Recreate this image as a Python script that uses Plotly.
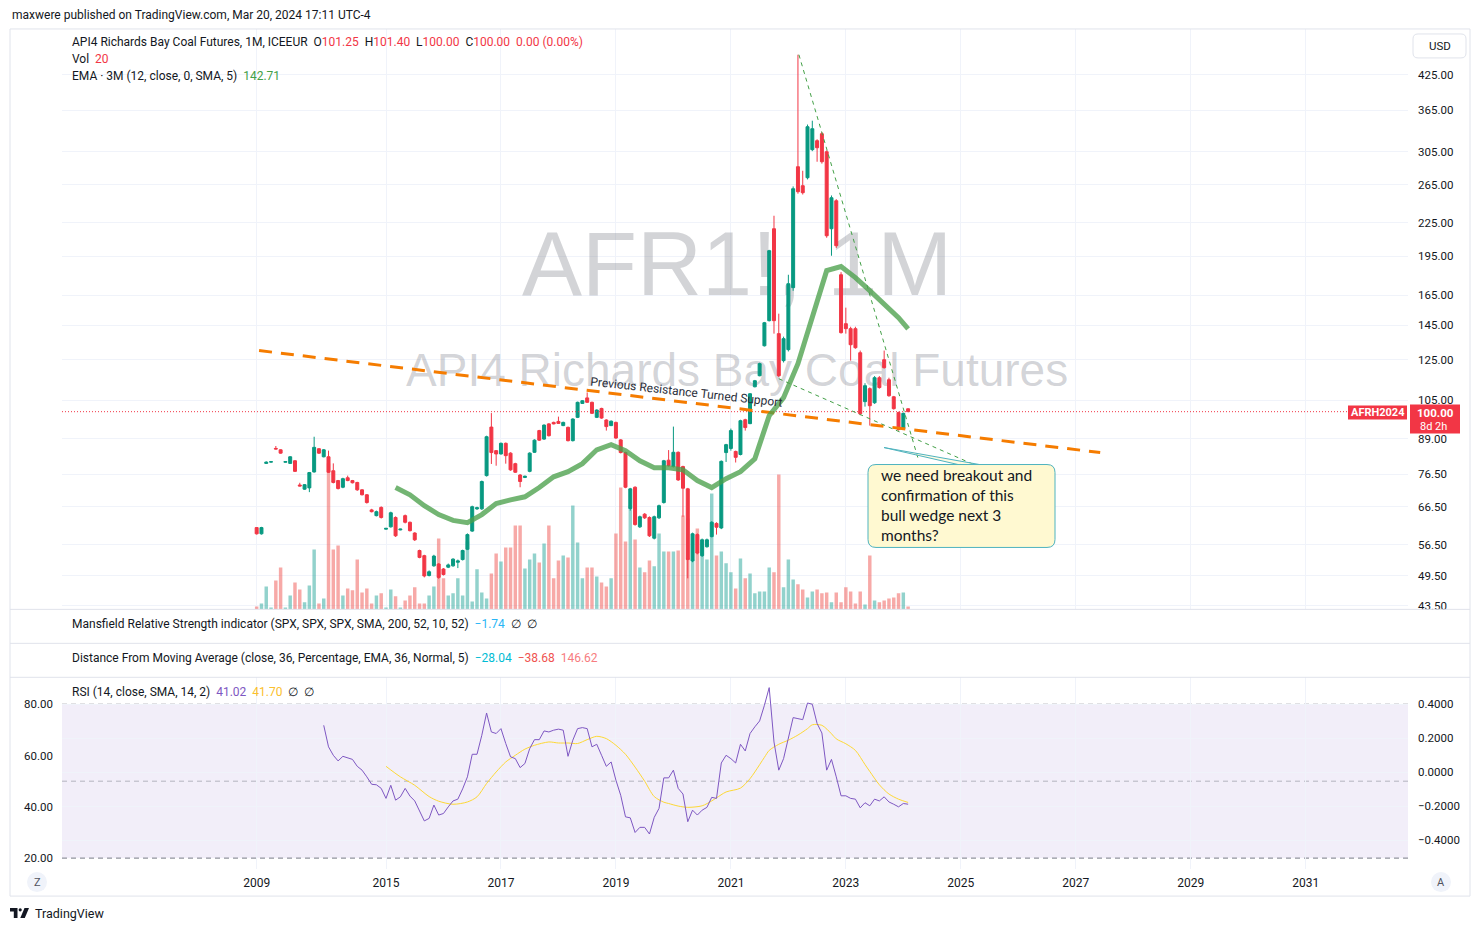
import math
import plotly.graph_objects as go

# ---------------- data (monthly bars, bar index -2 .. 134) ----------------
bar_index = list(range(-2, 135))

opens = [
    60.8, 59.2,
    80.1, 80.55, 85.4, 84.9, 80.5, 80.1, 81.0, 73.0, 71.7, 72.1,
    77.2, 85.3, 82.4, 82.4, 77.6, 74.4, 72.3, 75.3, 74.4, 73.8,
    71.5, 70.0, 65.6, 64.0, 66.3, 60.4, 61.0, 63.5, 60.2, 64.0,
    62.2, 59.4, 55.1, 53.9, 49.5, 51.6, 52.0, 50.9, 51.3, 51.6,
    52.4, 53.0, 55.4, 59.9, 65.9, 65.9, 76.0, 93.6, 84.6, 83.4,
    87.3, 83.7, 80.0, 76.2, 75.4, 77.4, 84.0, 92.2, 88.9, 94.9,
    95.5, 95.9, 94.2, 93.5, 88.3, 97.6, 103.6, 106.1, 104.1, 97.6,
    101.4, 96.5, 94.2, 95.5, 88.6, 83.9, 66.0, 72.3, 61.0, 64.4,
    63.5, 58.1, 63.4, 67.7, 81.2, 79.0, 84.0, 79.0, 71.8, 52.7,
    59.0, 53.9, 56.0, 58.5, 61.9, 60.7, 83.9, 85.4, 84.3, 83.2,
    96.6, 95.0, 111.3, 116.7, 132.7, 147.8, 219.3, 139.8, 124.5, 130.5,
    170.3, 286.2, 263.8, 273.0, 308.0, 320.0, 329.7, 305.2, 219.3, 247.3,
    180.0, 145.9, 142.8, 142.8, 128.8, 104.4, 110.4, 103.9, 115.7, 125.0,
    114.7, 106.6, 99.6, 93.0, 101.25,
]
highs = [
    60.9, 61.0,
    80.8, 80.8, 86.3, 85.1, 80.8, 82.6, 81.2, 73.7, 73.3, 77.2,
    89.8, 85.5, 85.2, 84.6, 80.1, 74.6, 75.3, 76.0, 74.6, 74.0,
    71.7, 70.2, 65.9, 65.4, 66.6, 60.7, 65.1, 63.8, 60.5, 64.3,
    62.4, 59.6, 55.3, 54.1, 50.6, 54.1, 52.2, 51.1, 52.1, 53.3,
    53.0, 55.3, 59.3, 66.8, 66.5, 74.4, 90.2, 99.4, 84.8, 87.6,
    87.6, 84.0, 80.3, 76.5, 76.0, 84.0, 88.8, 92.5, 94.7, 95.2,
    95.8, 97.9, 95.8, 93.8, 97.2, 104.4, 105.1, 108.6, 104.4, 101.0,
    101.7, 96.8, 96.3, 95.8, 88.9, 84.2, 72.1, 72.6, 64.0, 64.7,
    63.8, 64.0, 67.1, 81.3, 84.8, 93.8, 84.3, 79.3, 72.1, 59.5,
    59.3, 58.0, 58.0, 62.5, 62.2, 81.1, 87.1, 93.0, 84.6, 96.6,
    97.0, 108.3, 114.6, 123.4, 147.0, 200.3, 231.9, 152.3, 138.0, 180.0,
    263.0, 462.9, 281.3, 343.0, 348.7, 322.0, 332.0, 307.0, 253.0, 249.0,
    182.0, 156.3, 144.0, 144.0, 130.0, 113.0, 111.0, 116.5, 116.5, 130.0,
    115.7, 107.0, 100.0, 99.6, 101.4,
]
lows = [
    59.0, 59.0,
    79.9, 80.4, 85.1, 83.5, 80.4, 80.0, 77.2, 72.6, 71.5, 70.8,
    77.0, 83.4, 82.2, 76.9, 73.5, 71.6, 72.0, 74.2, 73.5, 71.2,
    69.8, 67.4, 64.9, 63.8, 63.2, 60.3, 60.8, 58.4, 60.1, 61.9,
    59.8, 57.4, 53.3, 49.1, 49.3, 51.4, 48.8, 49.5, 51.1, 51.4,
    51.1, 52.8, 55.2, 59.7, 65.6, 65.6, 75.7, 79.9, 79.3, 83.2,
    80.0, 77.6, 76.9, 72.3, 75.2, 77.1, 83.8, 88.2, 88.6, 89.9,
    94.7, 94.9, 94.0, 88.0, 88.0, 97.3, 103.4, 103.9, 99.0, 97.3,
    97.0, 92.2, 94.0, 89.0, 83.6, 72.0, 65.4, 61.3, 60.7, 63.1,
    58.4, 57.8, 63.1, 67.4, 79.0, 78.7, 74.3, 63.7, 48.9, 52.4,
    54.2, 53.6, 55.8, 58.3, 59.0, 60.4, 80.6, 84.6, 80.4, 82.9,
    92.2, 94.8, 111.0, 116.4, 132.3, 147.3, 139.8, 116.0, 123.5, 129.5,
    168.0, 254.9, 254.0, 271.0, 306.0, 292.4, 290.0, 211.0, 195.3, 202.0,
    139.8, 139.8, 124.5, 131.0, 98.5, 102.2, 94.2, 103.4, 110.4, 120.3,
    106.6, 100.9, 92.2, 92.6, 100.0,
]
closes = [
    59.2, 60.8,
    80.5, 80.65, 85.2, 83.7, 80.7, 82.4, 77.4, 72.7, 73.1, 77.0,
    85.8, 83.7, 84.9, 77.1, 73.8, 71.9, 75.0, 74.4, 73.7, 71.5,
    70.0, 67.7, 65.1, 65.1, 63.5, 60.6, 64.8, 58.7, 60.4, 62.2,
    60.0, 57.7, 53.5, 49.4, 50.3, 53.8, 49.1, 49.7, 51.8, 53.1,
    52.7, 55.1, 59.0, 66.5, 66.2, 74.1, 89.8, 83.9, 83.4, 87.3,
    82.8, 77.9, 77.1, 74.1, 75.8, 83.7, 88.5, 88.5, 94.4, 90.2,
    94.9, 95.1, 95.5, 88.3, 96.9, 104.1, 104.8, 104.1, 99.3, 100.7,
    97.3, 93.8, 96.0, 89.3, 83.9, 72.3, 71.8, 61.6, 63.7, 63.4,
    58.7, 63.7, 66.8, 81.0, 79.3, 84.0, 74.6, 72.0, 53.0, 59.2,
    54.5, 57.7, 57.7, 62.2, 60.9, 80.8, 86.8, 92.2, 82.2, 96.2,
    93.4, 108.0, 114.2, 122.9, 146.5, 199.6, 147.8, 116.7, 136.8, 173.2,
    260.4, 257.1, 256.0, 339.8, 336.9, 310.5, 292.4, 212.8, 250.5, 203.9,
    140.4, 142.8, 133.3, 131.6, 99.1, 111.8, 102.6, 115.7, 110.9, 120.8,
    107.1, 101.3, 92.6, 99.3, 100.0,
]
volumes = [
    20, 40,
    153, 13, 193, 280, 13, 93, 180, 133, 47, 160,
    400, 40, 73, 973, 400, 427, 93, 140, 127, 333,
    113, 140, 40, 93, 107, 13, 133, 87, 13, 60,
    93, 147, 40, 40, 93, 153, 473, 207, 93, 107,
    207, 93, 453, 53, 267, 113, 73, 240, 373, 320,
    413, 413, 560, 560, 273, 333, 373, 313, 440, 560,
    207, 327, 360, 347, 693, 447, 207, 280, 280, 220,
    180, 153, 207, 507, 813, 453, 693, 467, 280, 247,
    327, 287, 507, 387, 387, 387, 393, 627, 607, 333,
    540, 447, 333, 773, 360, 387, 307, 247, 140, 340,
    207, 240, 107, 120, 120, 280, 247, 900, 147, 333,
    200, 167, 133, 80, 120, 133, 107, 113, 47, 113,
    47, 147, 120, 40, 120, 33, 360, 60, 47, 60,
    73, 80, 107, 113, 20,
]

# EMA of the 3-month timeframe (one point per quarter)
ema_index = [27, 30, 33, 36, 39, 42, 45, 48, 51, 54, 57, 60, 63, 66, 69, 72, 75, 78,
             81, 84, 87, 90, 93, 96, 99, 102, 105, 108, 111, 114, 117, 120, 123, 126,
             129, 132, 134]
ema_values = [72.2, 70.0, 66.8, 64.3, 62.7, 62.1, 64.3, 67.4, 68.5, 69.4, 72.2, 75.6,
              77.3, 80.0, 84.9, 86.8, 84.6, 81.0, 78.6, 78.6, 77.9, 74.4, 72.2, 75.0,
              77.3, 81.7, 98.3, 106.2, 122.9, 149.7, 183.2, 186.4, 177.8, 168.1, 158.9,
              149.7, 142.71]

# RSI (14) and its SMA
rsi_index = list(range(12, 135))
rsi_values = [
    71.8, 63.4, 60.1, 57.9, 59.7, 59.2, 58.5, 55.8,
    54.3, 51.7, 48.8, 48.6, 47.2, 43.3, 48.4, 42.6, 43.9, 47.2,
    44.2, 42.3, 38.4, 34.5, 35.5, 40.7, 36.8, 37.4, 40.0, 42.3,
    43.0, 47.0, 51.7, 60.5, 60.5, 67.9, 76.6, 69.2, 68.6, 70.5,
    64.7, 59.5, 58.8, 55.3, 56.9, 62.7, 66.2, 66.2, 69.6, 69.2,
    69.9, 70.3, 69.9, 59.7, 66.0, 70.5, 70.9, 70.5, 63.4, 64.4,
    60.1, 55.8, 57.5, 50.4, 44.5, 36.1, 35.7, 30.0, 32.0, 32.0,
    29.4, 35.9, 39.4, 51.3, 51.3, 54.3, 47.2, 45.0, 34.2, 38.7,
    36.8, 38.7, 39.8, 43.7, 43.3, 57.1, 60.1, 58.8, 57.1, 64.4,
    61.8, 68.6, 71.2, 73.5, 79.6, 86.5, 65.3, 54.3, 58.8, 67.3,
    74.8, 74.4, 74.0, 80.5, 80.0, 72.5, 68.8, 54.3, 58.5, 51.7,
    44.3, 44.3, 43.3, 43.0, 39.6, 41.6, 40.4, 43.0, 42.3, 43.9,
    41.9, 41.0, 40.0, 41.3, 41.02,
]
rsi_sma_index = [25, 28, 31, 34, 36, 39, 42, 44, 46, 48, 50, 52, 54, 56, 59, 61, 63, 65,
                 67, 69, 71, 73, 75, 77, 79, 81, 83, 84, 86, 88, 91, 93, 94, 96, 99, 101,
                 102, 104, 105, 107, 109, 111, 113, 114, 116, 118, 119, 121, 123, 125,
                 126, 128, 130, 132, 134]
rsi_sma_values = [55.8, 51.7, 48.4, 44.0, 42.2, 41.0, 41.9, 43.9, 49.1, 53.6, 57.5, 60.1,
                  62.5, 64.0, 65.3, 64.9, 64.9, 64.7, 66.2, 67.5, 66.6, 64.0, 60.5, 55.5,
                  50.0, 44.0, 41.8, 41.3, 40.3, 39.8, 40.4, 42.3, 43.5, 45.8, 47.3, 51.0,
                  53.6, 59.3, 62.0, 64.4, 66.0, 68.0, 70.5, 72.0, 71.8, 68.5, 66.5, 64.6,
                  62.0, 56.5, 53.8, 48.6, 45.0, 43.0, 41.70]

year_tick_index = [-2, 25, 49, 73, 97, 121, 145, 169, 193, 217]
year_tick_labels = ["2009", "2015", "2017", "2019", "2021", "2023", "2025", "2027", "2029", "2031"]
price_ticks = [425, 365, 305, 265, 225, 195, 165, 145, 125, 105, 89, 76.5, 66.5, 56.5, 49.5, 43.5]
rsi_ticks = [20, 40, 60, 80]
rsi_right_ticks = [0.4, 0.2, 0.0, -0.2, -0.4]

# user drawings (bar index, price)
resistance_idx, resistance_price = [-1.5, 174.1], [130.0, 83.9]
wedge_upper_idx, wedge_upper_price = [111.2, 136.1], [462.9, 81.7]
wedge_lower_idx, wedge_lower_price = [107.0, 150.1], [115.2, 78.0]
last_price = 100.0
callout_text = "we need breakout and<br>confirmation of this<br>bull wedge next 3<br>months?"

# ---------------- layout helpers ----------------
# the page body has an 8px margin, so the figure is placed at (8, 8) of the window
OFF = 8
W, H = 1480 - 2 * OFF, 931 - 2 * OFF
FONT = "Roboto"
TXT = "#131722"
RED = "#f23645"
GRID = "#f0f3fa"
SEP = "#e0e3eb"
X_RANGE = [-42.64, 238.36]


def px(x):
    return (x - OFF) / W


def py(y):
    y = 14 + (y - 13) * 1.00227  # small vertical calibration
    return 1 - (y - OFF) / H


fig = go.Figure()

# watermark (base subplot, drawn beneath everything)
fig.add_trace(go.Scatter(x=[98.3, 98.3], y=[0.58, 0.405], mode="text",
                         text=["AFR1!, 1M", "API4 Richards Bay Coal Futures"],
                         textfont=dict(size=[90, 46], color="rgba(120,123,134,0.33)",
                                       family="Liberation Sans"),
                         xaxis="x", yaxis="y", hoverinfo="skip", showlegend=False))

# volume
vol_colors = ["rgba(38,166,154,0.5)" if c >= o else "rgba(239,83,80,0.5)"
              for o, c in zip(opens, closes)]
fig.add_trace(go.Bar(x=bar_index, y=volumes, marker=dict(color=vol_colors, line=dict(width=0)),
                     width=0.72, xaxis="x", yaxis="y2", hoverinfo="skip", showlegend=False))

# candles
fig.add_trace(go.Candlestick(
    x=bar_index, open=opens, high=highs, low=lows, close=closes,
    increasing=dict(line=dict(color="#089981", width=1), fillcolor="#089981"),
    decreasing=dict(line=dict(color=RED, width=1), fillcolor=RED),
    whiskerwidth=0, xaxis="x", yaxis="y3", hoverinfo="skip", showlegend=False))

# last price dotted line
fig.add_trace(go.Scatter(x=X_RANGE, y=[last_price, last_price], mode="lines",
                         line=dict(color=RED, width=1, dash="1px,2px"),
                         xaxis="x", yaxis="y3", hoverinfo="skip", showlegend=False))

# drawings
fig.add_trace(go.Scatter(x=resistance_idx, y=resistance_price, mode="lines",
                         line=dict(color="#f57c00", width=3, dash="13px,9px"),
                         xaxis="x", yaxis="y3", hoverinfo="skip", showlegend=False))
for xs, ys in [(wedge_upper_idx, wedge_upper_price), (wedge_lower_idx, wedge_lower_price)]:
    fig.add_trace(go.Scatter(x=xs, y=ys, mode="lines",
                             line=dict(color="#43a047", width=1, dash="4px,4px"),
                             xaxis="x", yaxis="y3", hoverinfo="skip", showlegend=False))

# EMA 3M
fig.add_trace(go.Scatter(x=ema_index, y=ema_values, mode="lines",
                         line=dict(color="rgba(76,160,76,0.78)", width=5),
                         xaxis="x", yaxis="y3", hoverinfo="skip", showlegend=False))

# RSI pane
fig.add_trace(go.Scatter(x=rsi_sma_index, y=rsi_sma_values, mode="lines",
                         line=dict(color="#fdd835", width=1, shape="spline", smoothing=0.8),
                         xaxis="x2", yaxis="y4", hoverinfo="skip", showlegend=False))
fig.add_trace(go.Scatter(x=rsi_index, y=rsi_values, mode="lines",
                         line=dict(color="#7e57c2", width=1),
                         xaxis="x2", yaxis="y4", hoverinfo="skip", showlegend=False))
fig.add_trace(go.Scatter(x=[None], y=[None], xaxis="x2", yaxis="y5", showlegend=False))

axis_font = dict(family=FONT, size=11.5, color=TXT)
fig.update_layout(
    width=W, height=H, autosize=False,
    margin=dict(l=0, r=0, t=0, b=0, pad=0),
    paper_bgcolor="white", plot_bgcolor="white",
    showlegend=False, boxgap=0.38, boxgroupgap=0,
    xaxis=dict(domain=[px(62), px(1408)], range=X_RANGE, anchor="y",
               tickmode="array", tickvals=year_tick_index, showticklabels=False,
               showgrid=True, gridcolor=GRID, zeroline=False, showline=False, ticks="",
               rangeslider=dict(visible=False), fixedrange=True),
    yaxis=dict(domain=[py(609), py(28)], range=[0, 1], visible=False, fixedrange=True),
    yaxis2=dict(overlaying="y", anchor="x", range=[0, 3873], visible=False, fixedrange=True),
    yaxis3=dict(overlaying="y", anchor="x", type="log",
                range=[math.log10(42.8), math.log10(517)], side="right",
                tickmode="array", tickvals=price_ticks,
                ticktext=[f"{v:.2f}" for v in price_ticks],
                showgrid=True, gridcolor=GRID, zeroline=False, showline=False, ticks="",
                ticklabelstandoff=9, tickfont=axis_font, fixedrange=True),
    xaxis2=dict(domain=[px(62), px(1408)], range=X_RANGE, anchor="y4",
                tickmode="array", tickvals=year_tick_index, ticktext=year_tick_labels,
                showgrid=True, gridcolor=GRID, zeroline=False, showline=False, ticks="",
                ticklabelstandoff=5, tickfont=dict(family=FONT, size=12, color=TXT),
                fixedrange=True),
    yaxis4=dict(domain=[py(869), py(677)], range=[15.71, 90.52], anchor="x2", side="left",
                tickmode="array", tickvals=rsi_ticks,
                ticktext=[f"{v:.2f}" for v in rsi_ticks],
                showgrid=False, zeroline=False, showline=False, ticks="",
                ticklabelstandoff=8, tickfont=axis_font, fixedrange=True),
    yaxis5=dict(overlaying="y4", anchor="x2", side="right", range=[-0.5706, 0.5588],
                tickmode="array", tickvals=rsi_right_ticks,
                ticktext=[(f"{v:.4f}" if v >= 0 else "\u2212" + f"{-v:.4f}") for v in rsi_right_ticks],
                showgrid=True, gridcolor=GRID, zeroline=False, showline=False, ticks="",
                ticklabelstandoff=9, tickfont=axis_font, fixedrange=True),
)

shapes = []
# RSI band + levels
shapes.append(dict(type="rect", xref="x2", yref="y4", x0=X_RANGE[0], x1=X_RANGE[1], y0=20, y1=80,
                   fillcolor="rgba(126,87,194,0.1)", line=dict(width=0), layer="below"))
for lvl, col in [(80, "#787b86"), (50, "rgba(120,123,134,0.5)"), (20, "#787b86")]:
    shapes.append(dict(type="line", xref="x2", yref="y4", x0=X_RANGE[0], x1=X_RANGE[1], y0=lvl, y1=lvl,
                       line=dict(color=col, width=1, dash="5px,4px"), layer="below"))
# frame and pane separators
shapes.append(dict(type="rect", xref="paper", yref="paper", x0=px(10), x1=px(1470), y0=py(896), y1=py(28),
                   line=dict(color=SEP, width=1), fillcolor="rgba(0,0,0,0)", layer="above"))
for yy in [609, 643, 677]:
    shapes.append(dict(type="line", xref="paper", yref="paper", x0=px(10), x1=px(1470), y0=py(yy), y1=py(yy),
                       line=dict(color=SEP, width=1), layer="above"))


def rounded(x0, y0, x1, y1, r):
    return (f"M {px(x0 + r)} {py(y0)} L {px(x1 - r)} {py(y0)} Q {px(x1)} {py(y0)} {px(x1)} {py(y0 + r)} "
            f"L {px(x1)} {py(y1 - r)} Q {px(x1)} {py(y1)} {px(x1 - r)} {py(y1)} "
            f"L {px(x0 + r)} {py(y1)} Q {px(x0)} {py(y1)} {px(x0)} {py(y1 - r)} "
            f"L {px(x0)} {py(y0 + r)} Q {px(x0)} {py(y0)} {px(x0 + r)} {py(y0)} Z")


# callout (tail + box)
shapes.append(dict(type="path", xref="paper", yref="paper",
                   path=f"M {px(884)} {py(447)} L {px(985)} {py(465)} L {px(958)} {py(464)} Z",
                   fillcolor="rgba(255,249,209,0.6)", line=dict(color="#4fb3bf", width=1), layer="above"))
shapes.append(dict(type="path", xref="paper", yref="paper", path=rounded(868, 464, 1055, 547, 8),
                   fillcolor="#fff9d1", line=dict(color="#4fb3bf", width=1), layer="above"))
# USD button
shapes.append(dict(type="path", xref="paper", yref="paper", path=rounded(1413, 33, 1466, 57, 5),
                   fillcolor="white", line=dict(color=SEP, width=1), layer="above"))
# price labels
shapes.append(dict(type="rect", xref="paper", yref="paper", x0=px(1348), x1=px(1407), y0=py(419), y1=py(405),
                   fillcolor=RED, line=dict(width=0), layer="above"))
shapes.append(dict(type="rect", xref="paper", yref="paper", x0=px(1410), x1=px(1460), y0=py(433), y1=py(404),
                   fillcolor=RED, line=dict(width=0), layer="above"))
# Z / A buttons
for cx in [37, 1441]:
    shapes.append(dict(type="circle", xref="paper", yref="paper", x0=px(cx - 10), x1=px(cx + 10),
                       y0=py(892), y1=py(872), fillcolor="#f0f3fa", line=dict(width=0), layer="above"))
# TradingView logo
shapes.append(dict(type="path", xref="paper", yref="paper",
                   path=f"M {px(10)} {py(908)} L {px(17.5)} {py(908)} L {px(17.5)} {py(918)} L {px(13.8)} {py(918)} "
                        f"L {px(13.8)} {py(911.5)} L {px(10)} {py(911.5)} Z",
                   fillcolor=TXT, line=dict(width=0), layer="above"))
shapes.append(dict(type="circle", xref="paper", yref="paper", x0=px(18.6), x1=px(21.8), y0=py(911.4), y1=py(908.2),
                   fillcolor=TXT, line=dict(width=0), layer="above"))
shapes.append(dict(type="path", xref="paper", yref="paper",
                   path=f"M {px(24.5)} {py(908)} L {px(29)} {py(908)} L {px(24.8)} {py(918)} L {px(20.3)} {py(918)} Z",
                   fillcolor=TXT, line=dict(width=0), layer="above"))
fig.update_layout(shapes=shapes)


def ann(x, y, text, size=12, color=TXT, xanchor="left", family=FONT, **kw):
    return dict(x=px(x), y=py(y), xref="paper", yref="paper", text=text, showarrow=False,
                xanchor=xanchor, yanchor="middle", font=dict(family=family, size=size, color=color), **kw)


def red(t):
    return f'<span style="color:{RED}">{t}</span>'


sp = "&nbsp;&nbsp;"
annotations = [
    ann(10, 14, "maxwere published on TradingView.com, Mar 20, 2024 17:11 UTC-4"),
    ann(70, 41, "API4 Richards Bay Coal Futures, 1M, ICEEUR" + sp + "O" + red("101.25") + sp + "H" + red("101.40")
        + sp + "L" + red("100.00") + sp + "C" + red("100.00") + sp + red("0.00 (0.00%)")),
    ann(70, 58, "Vol" + sp + red("20")),
    ann(70, 75, "EMA · 3M (12, close, 0, SMA, 5)" + sp + '<span style="color:#43a047">142.71</span>'),
    ann(70, 624, "Mansfield Relative Strength indicator (SPX, SPX, SPX, SMA, 200, 52, 10, 52)" + sp
        + '<span style="color:#29b6f6">\u22121.74</span>' + sp + "∅" + sp + "∅"),
    ann(70, 658, "Distance From Moving Average (close, 36, Percentage, EMA, 36, Normal, 5)" + sp
        + '<span style="color:#00bcd4">\u221228.04</span>' + sp
        + '<span style="color:#ef5350">\u221238.68</span>' + sp
        + '<span style="color:#f77c80">146.62</span>'),
    ann(70, 692, "RSI (14, close, SMA, 14, 2)" + sp + '<span style="color:#7e57c2">41.02</span>' + sp
        + '<span style="color:#fbc02d">41.70</span>' + sp + "∅" + sp + "∅"),
    ann(1439.5, 45, "USD", size=11.5, xanchor="center"),
    ann(1377.5, 412, "<b>AFRH2024</b>", size=11, color="white", xanchor="center"),
    ann(1435, 412, "<b>100.00</b>", size=11.5, color="white", xanchor="center"),
    ann(1433, 426, "8d 2h", size=11, color="white", xanchor="center"),
    ann(37, 882, "Z", size=11, color="#50535e", xanchor="center"),
    ann(1441, 882, "A", size=11, color="#50535e", xanchor="center"),
    ann(33, 913, "TradingView", size=12.5),
    ann(686, 391, "Previous Resistance Turned Support", size=12, color="#2a2e39",
        xanchor="center", textangle=6.3),
    ann(879, 505, callout_text, size=15.5, family="Lato", align="left"),
]
fig.update_layout(annotations=annotations)

fig.write_html("out.html", config={"displayModeBar": False})
